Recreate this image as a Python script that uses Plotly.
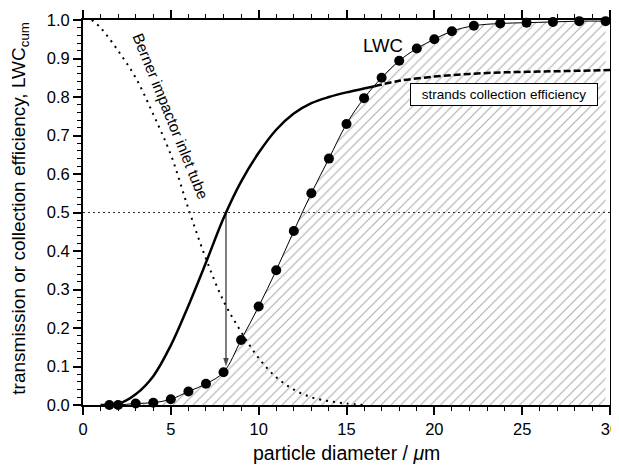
import plotly.graph_objects as go

# LWC cumulative (markers)
lwc_x = [1.5, 2, 3, 4, 5, 6, 7, 8, 9, 10, 11, 12, 13, 14, 15, 16, 17, 18, 19, 20, 21,
         22.25, 23.75, 25.25, 26.75, 28.25, 29.75]
lwc_y = [0.0, 0.0, 0.004, 0.006, 0.015, 0.035, 0.055, 0.085, 0.169, 0.256, 0.35, 0.452,
         0.55, 0.64, 0.73, 0.797, 0.85, 0.894, 0.926, 0.95, 0.971, 0.985, 0.991, 0.993,
         0.995, 0.997, 0.997]

# strands collection efficiency (solid part, measured range)
strand_x = [1, 2, 3, 4, 5, 6, 7, 8, 9, 10, 11, 12, 13, 14, 15, 16, 16.6]
strand_y = [0.0, 0.003, 0.028, 0.075, 0.155, 0.258, 0.37, 0.485, 0.58, 0.655, 0.715,
            0.757, 0.784, 0.80, 0.812, 0.822, 0.828]
# strands collection efficiency (dashed extrapolation)
strand_ext_x = [16.6, 18, 20, 22, 24, 26, 28, 30]
strand_ext_y = [0.828, 0.842, 0.853, 0.86, 0.864, 0.866, 0.868, 0.870]

# Berner impactor inlet tube transmission
berner_x = [0.5, 1, 2, 3, 4, 5, 6, 7, 8, 9, 10, 11, 12, 13, 14, 15, 16]
berner_y = [1.0, 0.98, 0.92, 0.85, 0.755, 0.65, 0.51, 0.38, 0.27, 0.19, 0.122, 0.072,
            0.04, 0.02, 0.01, 0.004, 0.0]

d50 = 8.14
level = 0.5
arrow_end = 0.10

x_ticks = [0, 5, 10, 15, 20, 25, 30]
y_ticks = [0.0, 0.1, 0.2, 0.3, 0.4, 0.5, 0.6, 0.7, 0.8, 0.9, 1.0]

FONT = "Liberation Sans, Arial, Helvetica, sans-serif"

fig = go.Figure()

# hatched area under LWC curve
fig.add_trace(go.Scatter(
    x=lwc_x, y=lwc_y, mode="lines", line=dict(width=0, shape="spline"),
    fill="tozeroy", fillcolor="rgba(255,255,255,0)",
    fillpattern=dict(shape="/", fgcolor="#5e5e5e", bgcolor="rgba(255,255,255,0)",
                     size=7, solidity=0.17),
    hoverinfo="skip", showlegend=False))

# Berner impactor inlet tube
fig.add_trace(go.Scatter(
    x=berner_x, y=berner_y, mode="lines",
    line=dict(color="black", width=2, dash="2px,5px", shape="spline"),
    showlegend=False))

# strands collection efficiency
fig.add_trace(go.Scatter(
    x=strand_x, y=strand_y, mode="lines",
    line=dict(color="black", width=2.5, shape="spline"), showlegend=False))
fig.add_trace(go.Scatter(
    x=strand_ext_x, y=strand_ext_y, mode="lines",
    line=dict(color="black", width=2.5, dash="7px,3px", shape="spline"), showlegend=False))

# LWC line + markers
fig.add_trace(go.Scatter(
    x=lwc_x, y=lwc_y, mode="lines+markers",
    line=dict(color="black", width=1, shape="spline"),
    marker=dict(color="black", size=10), cliponaxis=False, showlegend=False))

# horizontal 50% line
fig.add_shape(type="line", xref="x", yref="y", x0=0, x1=30, y0=level, y1=level,
              line=dict(color="#333333", width=1, dash="2px,3px"))

# arrow from 50% cut down to LWC
fig.add_trace(go.Scatter(
    x=[d50, d50], y=[level, arrow_end], mode="lines+markers",
    line=dict(color="black", width=1),
    marker=dict(symbol="arrow", angleref="previous", size=[0, 9], color="black",
                line=dict(width=0)),
    hoverinfo="skip", showlegend=False))

fig.add_annotation(x=17.09, y=0.935, xref="x", yref="y", text="LWC", showarrow=False,
                   font=dict(size=18.5, color="black", family=FONT))
fig.add_annotation(x=5.0, y=0.75, xref="x", yref="y", text="Berner impactor inlet tube",
                   showarrow=False, textangle=68,
                   font=dict(size=15.5, color="black", family=FONT))
fig.add_annotation(x=23.96, y=0.806, xref="x", yref="y",
                   text="strands collection efficiency", showarrow=False,
                   font=dict(size=13.5, color="black", family=FONT),
                   bgcolor="white", bordercolor="black", borderwidth=1, borderpad=3,
                   width=180)

# axis titles
fig.add_annotation(x=0.5, y=-0.1247, xref="paper", yref="paper",
                   text="particle diameter / <i>μ</i>m", showarrow=False,
                   xanchor="center", yanchor="middle",
                   font=dict(size=19.5, color="black", family=FONT))
fig.add_annotation(x=-0.1195, y=0.51, xref="paper", yref="paper",
                   text="transmission or collection efficiency, LWC<sub>cum</sub>",
                   showarrow=False, textangle=-90, xanchor="center", yanchor="middle",
                   font=dict(size=19, color="black", family=FONT))

axis_common = dict(showline=True, linecolor="black", linewidth=2, mirror="ticks",
                   ticks="outside", ticklen=8, tickwidth=1.5, tickcolor="black",
                   showgrid=False, zeroline=False, automargin=False,
                   ticklabeloverflow="allow",
                   tickfont=dict(size=16.5, color="black", family=FONT))

fig.update_xaxes(range=[0, 30], tickvals=x_ticks, ticktext=[str(v) for v in x_ticks],
                 minor=dict(ticks="outside", dtick=1, ticklen=4, tickwidth=1.2,
                            tickcolor="black", showgrid=False),
                 **axis_common)
fig.update_yaxes(range=[0, 1], tickvals=y_ticks, ticktext=[f"{v:.1f}" for v in y_ticks],
                 minor=dict(ticks="outside", dtick=0.02, ticklen=4, tickwidth=1.2,
                            tickcolor="black", showgrid=False),
                 **axis_common)

# page body has an 8px margin: size and margins compensate so the plot area
# lands at x 83..610, y 20..405 of the 619x465 window
fig.update_layout(width=611, height=457, margin=dict(l=75, r=9, t=12, b=60),
                  paper_bgcolor="white", plot_bgcolor="white",
                  font=dict(family=FONT, color="black"))

fig.write_html("out.html")
